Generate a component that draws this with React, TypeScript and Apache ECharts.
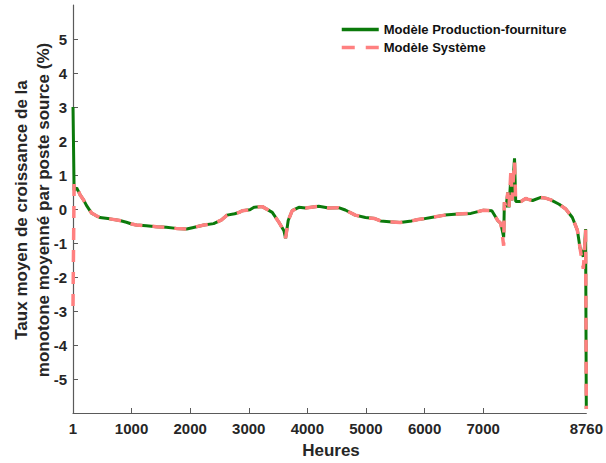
import React, { useEffect, useRef } from "react";
import * as echarts from "echarts";

const hours = [1, 20, 64, 120, 180, 233, 318, 400, 459, 629, 799, 912, 1000, 1082, 1252, 1422, 1592, 1761, 1940, 2038, 2235, 2400, 2530, 2630, 2760, 2836, 2890, 3020, 3090, 3232, 3401, 3515, 3600, 3628, 3673, 3741, 3855, 3968, 4194, 4364, 4533, 4647, 4817, 4990, 5150, 5250, 5450, 5580, 5780, 5891, 5980, 6112, 6344, 6570, 6791, 6995, 7148, 7249, 7300, 7350, 7362, 7390, 7420, 7440, 7475, 7490, 7535, 7555, 7645, 7725, 7758, 7843, 7984, 8064, 8153, 8296, 8409, 8522, 8607, 8653, 8709, 8730, 8748, 8760];

const productionValues = [3.0, 0.55, 0.62, 0.42, 0.27, 0.10, -0.12, -0.20, -0.25, -0.29, -0.34, -0.39, -0.44, -0.47, -0.49, -0.52, -0.54, -0.57, -0.59, -0.55, -0.47, -0.43, -0.33, -0.18, -0.14, -0.10, -0.05, -0.02, 0.05, 0.07, -0.10, -0.39, -0.64, -0.86, -0.34, -0.05, 0.05, 0.03, 0.08, 0.03, 0.04, -0.03, -0.18, -0.25, -0.28, -0.35, -0.38, -0.40, -0.35, -0.31, -0.29, -0.25, -0.18, -0.15, -0.13, -0.04, -0.05, -0.34, -0.42, -0.83, 0.20, 0.05, 0.49, 0.05, 1.0, 0.25, 1.49, 0.22, 0.22, 0.31, 0.29, 0.25, 0.34, 0.32, 0.27, 0.14, 0.0, -0.25, -0.62, -1.15, -1.40, -1.10, -0.59, -5.88];

const systemValues = [-2.85, 0.75, 0.69, 0.42, 0.27, 0.10, -0.12, -0.20, -0.25, -0.29, -0.34, -0.39, -0.44, -0.47, -0.49, -0.52, -0.54, -0.57, -0.59, -0.55, -0.47, -0.43, -0.33, -0.18, -0.14, -0.10, -0.05, -0.02, 0.05, 0.07, -0.10, -0.39, -0.64, -0.86, -0.34, -0.05, 0.05, 0.03, 0.08, 0.03, 0.04, -0.03, -0.18, -0.25, -0.28, -0.35, -0.38, -0.40, -0.35, -0.31, -0.29, -0.25, -0.18, -0.15, -0.13, -0.04, -0.05, -0.34, -0.42, -1.08, 0.20, 0.05, 0.49, 0.05, 1.18, 0.25, 1.40, 0.22, 0.22, 0.31, 0.29, 0.25, 0.34, 0.32, 0.27, 0.14, 0.0, -0.25, -0.62, -1.15, -1.76, -1.20, -0.59, -5.88];

const xTicks = [1, 1000, 2000, 3000, 4000, 5000, 6000, 7000, 8760];
const yTicks = [-5, -4, -3, -2, -1, 0, 1, 2, 3, 4, 5];

const seriesNames = ["Modèle Production-fourniture", "Modèle Système"];
const xTitle = "Heures";
const yTitleLines = ["Taux moyen de croissance de la", "monotone moyenné par poste source (%)"];

const FONT = "'Liberation Sans', Arial, sans-serif";
const TXT = "#262626";
const AXIS = "#5a5a5a";
const GREEN = "#0b7a0b";
const PINK = "#ff8080";

export default function App() {
  const ref = useRef<HTMLDivElement>(null);
  useEffect(() => {
    if (!ref.current) return;
    const chart = echarts.init(ref.current, null, { renderer: "svg" });
    const prod = hours.map((h, i) => [h, productionValues[i]]);
    const sys = hours.map((h, i) => [h, systemValues[i]]);
    const left = 73, top = 5, width = 516, height = 408;
    chart.setOption({
      animation: false,
      backgroundColor: "#ffffff",
      textStyle: { fontFamily: FONT },
      grid: { left, top, width, height, containLabel: false },
      legend: {
        orient: "vertical",
        left: 340,
        top: 23,
        padding: 0,
        itemWidth: 37,
        itemHeight: 14,
        itemGap: 5,
        align: "left",
        itemStyle: { opacity: 0 },
        textStyle: { fontFamily: FONT, fontWeight: "bold", fontSize: 13, color: "#111" },
        data: [
          { name: seriesNames[0], lineStyle: { width: 3.5 } },
          { name: seriesNames[1], lineStyle: { width: 3.5, type: [13, 11] } },
        ],
      },
      xAxis: {
        type: "value",
        min: 1,
        max: 8760,
        splitLine: { show: false },
        axisLine: { show: true, onZero: false, lineStyle: { color: AXIS, width: 1.2 } },
        axisTick: { show: true, inside: true, length: 5, customValues: xTicks.slice(0, 8), lineStyle: { color: AXIS } },
        axisLabel: {
          customValues: xTicks,
          margin: 8,
          fontFamily: FONT,
          fontWeight: "bold",
          fontSize: 15,
          color: TXT,
          formatter: (v: number) => String(v),
        },
      },
      yAxis: {
        type: "value",
        min: -6,
        max: 6,
        interval: 1,
        splitLine: { show: false },
        axisLine: { show: true, onZero: false, lineStyle: { color: AXIS, width: 1.2 } },
        axisTick: { show: true, inside: true, length: 5, customValues: yTicks, lineStyle: { color: AXIS } },
        axisLabel: {
          customValues: yTicks,
          margin: 6,
          fontFamily: FONT,
          fontWeight: "bold",
          fontSize: 15,
          color: TXT,
          formatter: (v: number) => (Math.abs(v) >= 6 ? "" : String(v)),
        },
      },
      series: [
        {
          name: seriesNames[0],
          type: "line",
          data: prod,
          showSymbol: false,
          symbol: "none",
          lineStyle: { color: GREEN, width: 3 },
          itemStyle: { color: GREEN },
          z: 2,
        },
        {
          name: seriesNames[1],
          type: "line",
          data: sys,
          showSymbol: false,
          symbol: "none",
          lineStyle: { color: PINK, width: 3.5, type: [12, 10] },
          itemStyle: { color: PINK },
          z: 3,
        },
      ],
      graphic: [
        {
          type: "text",
          x: left + width / 2,
          y: 450,
          style: {
            text: xTitle,
            fontFamily: FONT,
            fontWeight: "bold",
            fontSize: 17,
            fill: TXT,
            align: "center",
            verticalAlign: "middle",
          },
        },
        {
          type: "text",
          x: 21,
          y: 210,
          rotation: Math.PI / 2,
          style: {
            text: yTitleLines[0],
            fontFamily: FONT,
            fontWeight: "bold",
            fontSize: 17,
            fill: TXT,
            align: "center",
            verticalAlign: "middle",
          },
        },
        {
          type: "text",
          x: 43.5,
          y: 210,
          rotation: Math.PI / 2,
          style: {
            text: yTitleLines[1],
            fontFamily: FONT,
            fontWeight: "bold",
            fontSize: 17,
            fill: TXT,
            align: "center",
            verticalAlign: "middle",
          },
        },
      ],
    });
    return () => chart.dispose();
  }, []);
  return (
    <div
      ref={ref}
      style={{ position: "fixed", left: 0, top: 0, width: 606, height: 463, background: "#fff" }}
    />
  );
}
